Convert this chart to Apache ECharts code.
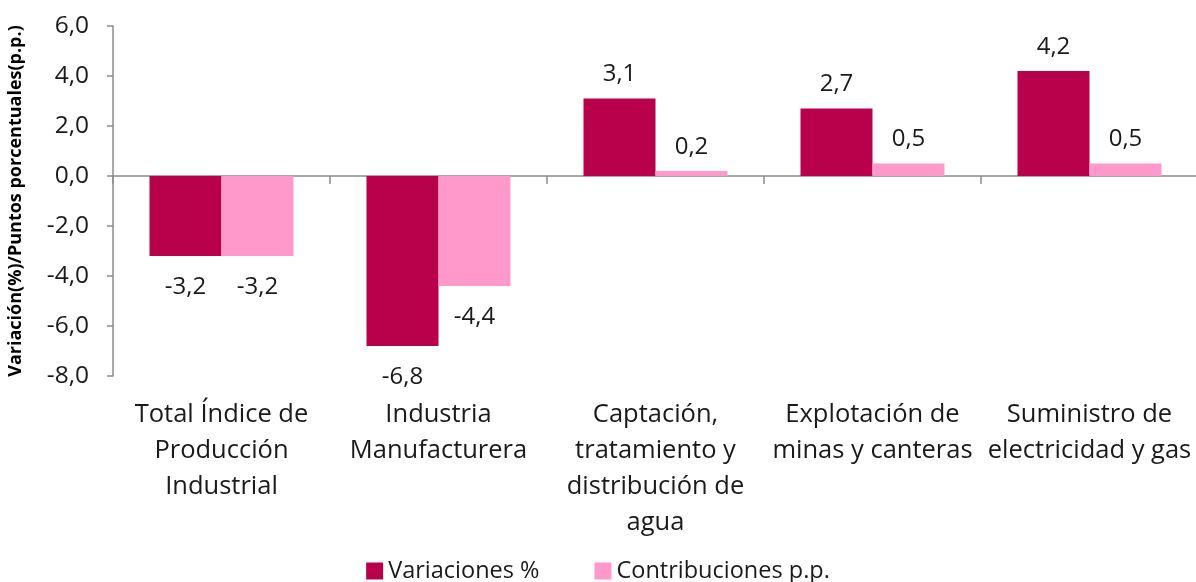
<!DOCTYPE html>
<html>
<head>
<meta charset="utf-8">
<script src="https://cdn.jsdelivr.net/npm/echarts@6/dist/echarts.min.js"></script>
<style>
  html, body { margin: 0; padding: 0; background: #fff; }
  #chart { width: 1196px; height: 582px; }
</style>
</head>
<body>
<div id="chart"></div>
<script>
// categorias del eje x (con saltos de linea como en el original)
var categorias = [
  'Total Índice de\nProducción\nIndustrial',
  'Industria\nManufacturera',
  'Captación,\ntratamiento y\ndistribución de\nagua',
  'Explotación de\nminas y canteras',
  'Suministro de\nelectricidad y gas'
]
var variaciones = [-3.2, -6.8, 3.1, 2.7, 4.2]
var contribuciones = [-3.2, -4.4, 0.2, 0.5, 0.5]
var ticksY = [-8, -6, -4, -2, 0, 2, 4, 6]

var FONT = '"Open Sans", "Noto Sans", sans-serif'
var coma = function(v) { return Number(v).toFixed(1).replace('.', ',') }

// etiqueta arriba si es positivo, abajo si es negativo
function conEtiquetas(valores) {
  return valores.map(function(v) {
    return {
      value: v,
      label: { position: v >= 0 ? 'top' : 'bottom', distance: v >= 0 ? 12 : 19 }
    }
  })
}

const myChart = echarts.init(document.getElementById('chart'))
const option = {
  animation: false,
  textStyle: { fontFamily: FONT },
  grid: { left: 113, top: 26, right: -2, bottom: 206, outerBoundsMode: 'none', containLabel: false },
  legend: {
    bottom: -6,
    left: 'center',
    icon: 'rect',
    itemWidth: 17,
    itemHeight: 17,
    itemGap: 55,
    textStyle: { fontSize: 23.5, color: '#1a1a1a', fontFamily: FONT },
    data: ['Variaciones %', 'Contribuciones p.p.']
  },
  xAxis: [
    {
      // solo etiquetas, abajo del area
      type: 'category',
      position: 'bottom',
      data: categorias,
      axisLine: { show: false, onZero: false },
      axisTick: { show: false },
      axisLabel: {
        interval: 0,
        margin: 21,
        fontSize: 25.5,
        lineHeight: 36,
        color: '#1a1a1a',
        fontFamily: FONT
      }
    },
    {
      // linea en cero con marcas
      type: 'category',
      position: 'bottom',
      data: categorias,
      axisLine: { show: true, onZero: true, lineStyle: { color: '#8c8c8c', width: 1.5 } },
      axisTick: { show: true, length: 8, lineStyle: { color: '#8c8c8c', width: 1.5 } },
      axisLabel: { show: false }
    }
  ],
  yAxis: {
    type: 'value',
    min: ticksY[0],
    max: ticksY[ticksY.length - 1],
    interval: 2,
    name: 'Variación(%)/Puntos porcentuales(p.p.)',
    nameLocation: 'middle',
    nameGap: 88,
    nameTextStyle: { fontSize: 18, fontWeight: 'bold', color: '#000', fontFamily: FONT },
    axisLine: { show: true, lineStyle: { color: '#8c8c8c', width: 1.5 } },
    axisTick: { show: true, length: 6, lineStyle: { color: '#8c8c8c', width: 1.5 } },
    splitLine: { show: false },
    axisLabel: {
      margin: 24,
      fontSize: 24.5,
      color: '#1a1a1a',
      fontFamily: FONT,
      formatter: coma
    }
  },
  series: [
    {
      name: 'Variaciones %',
      type: 'bar',
      xAxisIndex: 0,
      barWidth: 72,
      barGap: '0%',
      itemStyle: { color: '#b9004b' },
      label: { show: true, fontSize: 24, color: '#1a1a1a', fontFamily: FONT, formatter: function(p) { return coma(p.value) } },
      data: conEtiquetas(variaciones)
    },
    {
      name: 'Contribuciones p.p.',
      type: 'bar',
      xAxisIndex: 0,
      barWidth: 72,
      barGap: '0%',
      itemStyle: { color: '#ff99cc' },
      label: { show: true, fontSize: 24, color: '#1a1a1a', fontFamily: FONT, formatter: function(p) { return coma(p.value) } },
      data: conEtiquetas(contribuciones)
    }
  ]
}

myChart.setOption(option)
window.addEventListener('resize', function() {
  myChart.resize()
})
</script>
</body>
</html>
